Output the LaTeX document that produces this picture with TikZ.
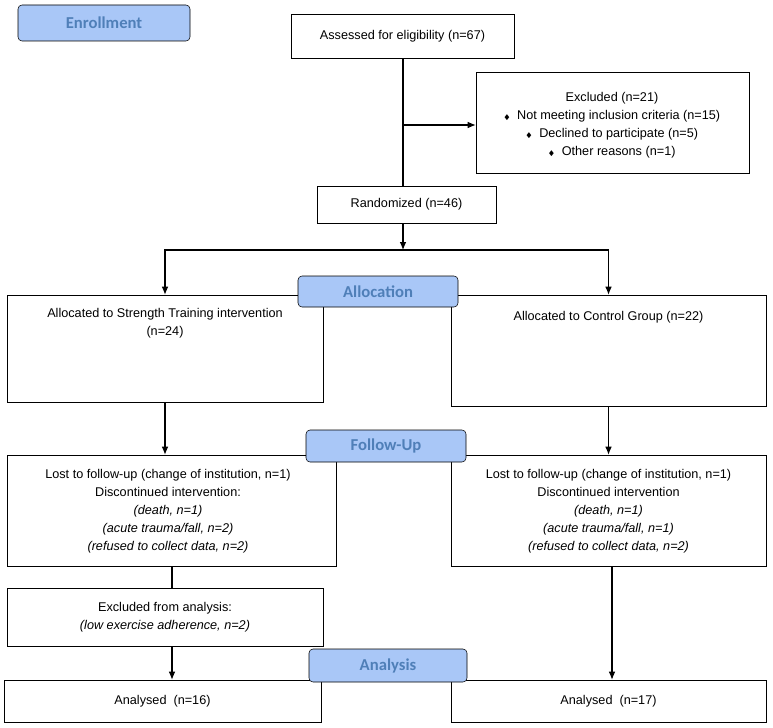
\documentclass[tikz,border=0pt]{standalone}
\usepackage{amssymb}
\usepackage{fontspec}
\setmainfont{Liberation Sans}
\newfontfamily\labfont{Carlito}
\usetikzlibrary{positioning,arrows.meta}
\definecolor{stagefill}{HTML}{A9C7F7}
\definecolor{stagetext}{HTML}{4F7FB8}
\begin{document}
\begin{tikzpicture}[x=0.75pt,y=-0.75pt,
    box/.style={draw, thin, rectangle, inner sep=0pt},
    txt/.style={align=center, font=\fontsize{9.5}{13.5}\selectfont, inner sep=0pt},
    stage/.style={draw, rounded corners=3pt, fill=stagefill, text=stagetext, font=\labfont\bfseries\fontsize{12.5}{14}\selectfont, inner sep=0pt},
    arr/.style={-{Latex[length=6pt,width=5pt]}, thick}]
    \useasboundingbox (0,0) rectangle (773,727);

    % boxes
    \node[box, minimum width=223*0.75pt, minimum height=44*0.75pt] (assess) at (402.5,36) {};
    \node[box, minimum width=273*0.75pt, minimum height=101*0.75pt] (excl) at (612.5,122.5) {};
    \node[box, minimum width=179*0.75pt, minimum height=37*0.75pt] (rand) at (406.5,204.5) {};
    \node[box, minimum width=316*0.75pt, minimum height=107*0.75pt] (allocL) at (165,348.5) {};
    \node[box, minimum width=315*0.75pt, minimum height=111*0.75pt] (allocR) at (608.5,350.5) {};
    \node[box, minimum width=329*0.75pt, minimum height=111*0.75pt] (followL) at (171.5,510.5) {};
    \node[box, minimum width=315*0.75pt, minimum height=111*0.75pt] (followR) at (608.5,510.5) {};
    \node[box, minimum width=316*0.75pt, minimum height=58*0.75pt] (exan) at (165,617) {};
    \node[box, minimum width=317*0.75pt, minimum height=42*0.75pt] (anaL) at (162.5,701) {};
    \node[box, minimum width=315*0.75pt, minimum height=42*0.75pt] (anaR) at (608.5,701) {};

    % stage labels
    \node[stage, minimum width=172*0.75pt, minimum height=36*0.75pt] (enrol) at (104,23) {Enrollment};
    \node[stage, minimum width=160*0.75pt, minimum height=31*0.75pt] (alloc) at (378,291.5) {Allocation};
    \node[stage, minimum width=160*0.75pt, minimum height=32*0.75pt] (follow) at (386,446) {Follow-Up};
    \node[stage, minimum width=158*0.75pt, minimum height=33*0.75pt] (analysis) at (388,665.5) {Analysis};

    % texts
    \node[txt] (tassess) at (assess) {Assessed for eligibility (n=67)};
    \node[txt] (texcl) at (612,125) {Excluded (n=21)\\
        {\tiny$\blacklozenge$}\ \ Not meeting inclusion criteria (n=15)\\
        {\tiny$\blacklozenge$}\ \ Declined to participate (n=5)\\
        {\tiny$\blacklozenge$}\ \ Other reasons (n=1)};
    \node[txt] (trand) at (rand) {Randomized (n=46)};
    \node[txt, anchor=north] (tallocL) at (165,308) {Allocated to Strength Training intervention\\(n=24)};
    \node[txt, anchor=north] (tallocR) at (608.5,311) {Allocated to Control Group (n=22)};
    \node[txt] (tfollowL) at (168,511) {Lost to follow-up (change of institution, n=1)\\
        Discontinued intervention:\\
        \textit{(death, n=1)}\\
        \textit{(acute trauma/fall, n=2)}\\
        \textit{(refused to collect data, n=2)}};
    \node[txt] (tfollowR) at (608.5,511) {Lost to follow-up (change of institution, n=1)\\
        Discontinued intervention\\
        \textit{(death, n=1)}\\
        \textit{(acute trauma/fall, n=1)}\\
        \textit{(refused to collect data, n=2)}};
    \node[txt] (texan) at (165,617) {Excluded from analysis:\\\textit{(low exercise adherence, n=2)}};
    \node[txt] (tanaL) at (162.5,701) {Analysed\ \ (n=16)};
    \node[txt] (tanaR) at (608.5,701) {Analysed\ \ (n=17)};

    % connectors
    \coordinate (split) at (403,250);
    \coordinate (branch) at (403,125);
    \coordinate (leftline) at (172,600);
    \coordinate (rightline) at (612,600);
    \draw[thick] (assess.south -| branch) -- (rand.north -| branch);
    \draw[arr] (branch) -- (excl.west |- branch);
    \draw[arr] (rand.south -| split) -- (split);
    \draw[arr] (split) -| (allocL.north);
    \draw[arr] (split) -| (allocR.north);
    \draw[arr] (allocL.south) -- (allocL.south |- followL.north);
    \draw[arr] (allocR.south) -- (followR.north);
    \draw[thick] (followL.south -| leftline) -- (exan.north -| leftline);
    \draw[arr] (exan.south -| leftline) -- (anaL.north -| leftline);
    \draw[arr] (followR.south -| rightline) -- (anaR.north -| rightline);
\end{tikzpicture}
\end{document}
